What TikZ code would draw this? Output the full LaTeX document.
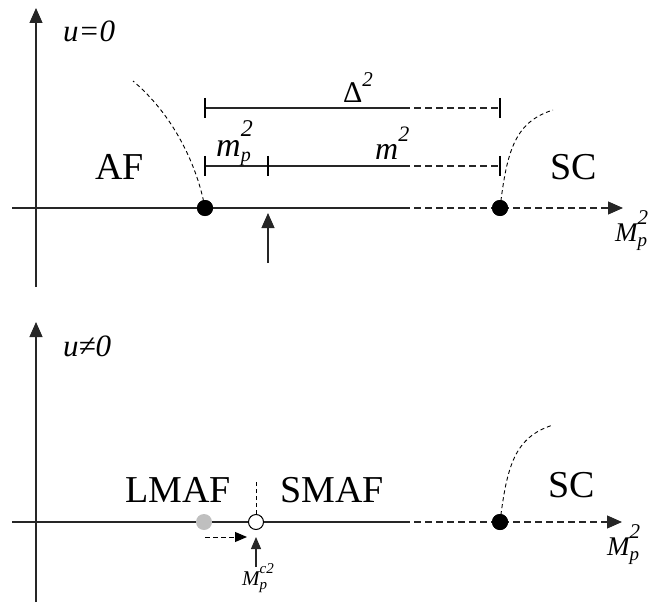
\documentclass[tikz,border=0pt]{standalone}
\usepackage{fontspec}
\setmainfont{Liberation Serif}
\usetikzlibrary{arrows.meta}
\newcommand{\fsz}[1]{\fontsize{#1bp}{#1bp}\selectfont}
% base letter, subscript, superscript (sizes and shifts)
\newcommand{\subsup}[7]{#1\makebox[0pt][l]{\raisebox{#3}{\fsz{#2}#4}}\raisebox{#6}{\fsz{#5}#7}}
\begin{document}
\begin{tikzpicture}[x=1bp,y=-1bp,
  axis/.style={line width=1.1bp, draw=black!85},
  dashax/.style={axis, dash pattern=on 7bp off 4bp},
  curve/.style={line width=0.9bp, draw=black, dash pattern=on 4bp off 3bp},
  bigtip/.style={-{Triangle[length=15bp,width=13bp]}},
  smalltip/.style={-{Triangle[length=12bp,width=10bp]}},
  tickmark/.style={line width=2bp, draw=black},
  dot/.style={circle, fill=black, minimum size=16bp, inner sep=0pt},
  graydot/.style={circle, fill=black!25, minimum size=16bp, inner sep=0pt},
  opendot/.style={circle, draw=black, line width=1bp, fill=white, minimum size=15bp, inner sep=0pt},
  big/.style={font=\fsz{38}, inner sep=0pt, anchor=base west},
  lab/.style={inner sep=0pt, anchor=base west}
]
\useasboundingbox (0,0) rectangle (648,603);

%%%%%%%% top panel %%%%%%%%
\coordinate (vb1) at (36,287);
\coordinate (vt1) at (36,8);
\draw[axis,bigtip] (vb1) -- (vt1);
\coordinate (h1l) at (12,208);
\coordinate (h1m) at (403,208);
\coordinate (h1r) at (623,208);
\draw[axis] (h1l) -- (h1m);
\draw[dashax,bigtip] (h1m) -- (h1r);

% Delta^2 interval
\coordinate (d1) at (205,108);
\coordinate (d2) at (403,108);
\coordinate (d3) at (500,108);
\draw[axis] (d1) -- (d2);
\draw[dashax] (d2) -- (d3);
\draw[tickmark] ([yshift=10bp]d1) -- ([yshift=-10bp]d1);
\draw[tickmark] ([yshift=10bp]d3) -- ([yshift=-10bp]d3);

% m_p^2 and m^2 intervals
\coordinate (m1) at (205,166);
\coordinate (m2) at (268,166);
\coordinate (m3) at (403,166);
\coordinate (m4) at (500,166);
\draw[axis] (m1) -- (m3);
\draw[dashax] (m3) -- (m4);
\draw[tickmark] ([yshift=10bp]m1) -- ([yshift=-10bp]m1);
\draw[tickmark] ([yshift=10bp]m2) -- ([yshift=-10bp]m2);
\draw[tickmark] ([yshift=10bp]m4) -- ([yshift=-10bp]m4);

% phase boundaries
\node[dot] (af) at (205,208) {};
\node[dot] (sc1) at (500,208) {};
\coordinate (afend) at (133,81);
\coordinate (sc1end) at (553,110);
\draw[curve] (af.center) .. controls (196,160) and (170,112) .. (afend);
\draw[curve] (sc1.center) .. controls (507,150) and (515,122) .. (sc1end);
\node[dot] at (af) {};
\node[dot] at (sc1) {};

% up arrow
\coordinate (a1b) at (268,263);
\coordinate (a1t) at (268,213);
\draw[axis,bigtip] (a1b) -- (a1t);

% labels
\node[lab, font=\fsz{31}\itshape] (u0) at (63,42) {u=0};
\node[big] (aflab) at (95,180) {AF};
\node[big] (sc1lab) at (550,180) {SC};
\node[lab, font=\fsz{34}\itshape] (mplab) at (216,157) {\subsup{m}{20}{-5bp}{p}{24}{20bp}{2}};
\node[lab, font=\fsz{30}] (dlab) at (343,103) {Δ\raisebox{16bp}{\fsz{21}\itshape 2}};
\node[lab, font=\fsz{32}\itshape] (mlab) at (375,160) {m\raisebox{18bp}{\fsz{22}2}};
\node[lab, font=\fsz{27}\itshape] (Mlab1) at (615,241) {\subsup{M}{19}{-5bp}{p}{21}{17bp}{2}};

%%%%%%%% bottom panel %%%%%%%%
\coordinate (vb2) at (36,602);
\coordinate (vt2) at (36,322);
\draw[axis,bigtip] (vb2) -- (vt2);
\coordinate (h2l) at (12,522);
\coordinate (h2m) at (403,522);
\coordinate (h2r) at (622,522);
\draw[axis] (h2l) -- (h2m);
\draw[dashax,bigtip] (h2m) -- (h2r);

\node[graydot] (lm) at (204,522) {};
\node[opendot] (crit) at (256,522) {};
\node[dot] (sc2) at (500,522) {};
\coordinate (sc2end) at (553,425);
\draw[curve] (sc2.center) .. controls (507,465) and (515,437) .. (sc2end);
\node[dot] at (sc2) {};

\coordinate (ctop) at (256,482);
\draw[curve] (crit.north) -- (ctop);

\coordinate (sh1) at (205,537);
\coordinate (sh2) at (247,537);
\draw[line width=1bp, dash pattern=on 5bp off 3bp, smalltip] (sh1) -- (sh2);
\coordinate (a2b) at (256,567);
\coordinate (a2t) at (256,537);
\draw[axis,smalltip] (a2b) -- (a2t);

\node[lab, font=\fsz{31}\itshape] (un0) at (63,356) {u≠0};
\node[big] (lmaf) at (125,502) {LMAF};
\node[big] (smaf) at (280,502) {SMAF};
\node[big] (sc2lab) at (548,497) {SC};
\node[lab, font=\fsz{21}\itshape] (Mc) at (242,585) {\subsup{M}{15}{-4bp}{p}{15}{12bp}{c2}};
\node[lab, font=\fsz{27}\itshape] (Mlab2) at (607,555) {\subsup{M}{19}{-5bp}{p}{21}{17bp}{2}};
\end{tikzpicture}
\end{document}
